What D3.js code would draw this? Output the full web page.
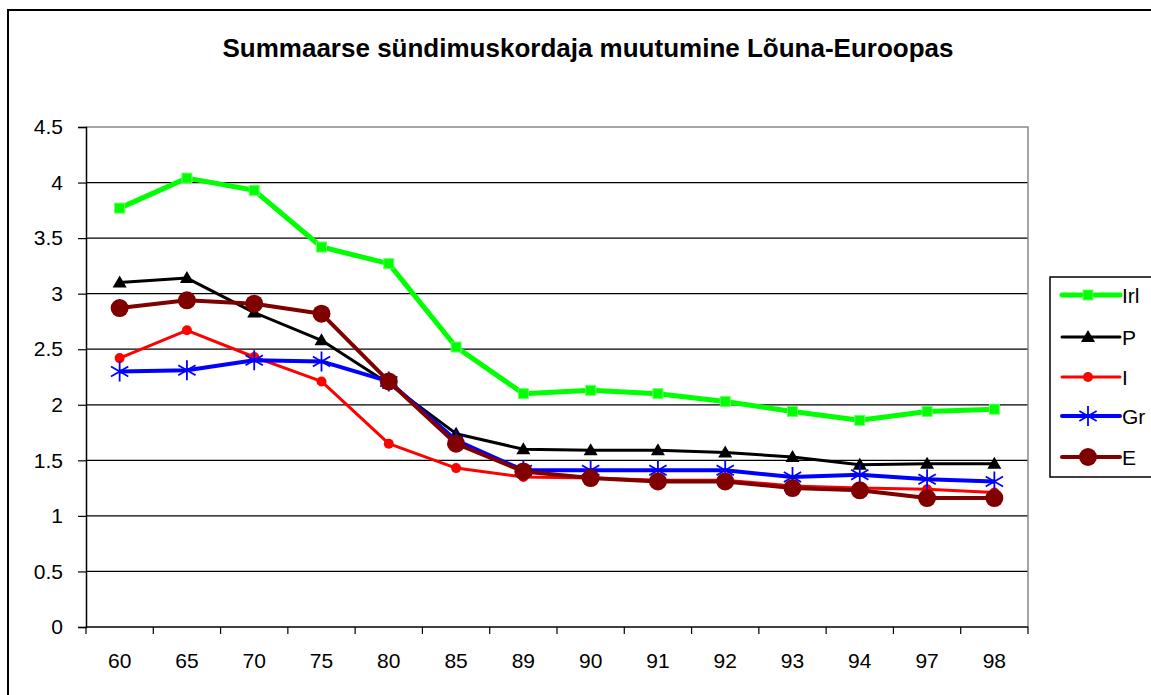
<!DOCTYPE html>
<html>
<head>
<meta charset="utf-8">
<script src="https://cdn.jsdelivr.net/npm/d3@7"></script>
<style>
  body { margin: 0; background: #fff; }
  text { font-family: "Liberation Sans", Arial, sans-serif; }
</style>
</head>
<body>
<svg id="chart" width="1151" height="695"></svg>
<script>
// DATA
var years = ["60","65","70","75","80","85","89","90","91","92","93","94","97","98"];
var irl = [3.77,4.04,3.93,3.42,3.27,2.52,2.10,2.13,2.10,2.03,1.94,1.86,1.94,1.96];
var por = [3.10,3.14,2.83,2.58,2.19,1.74,1.60,1.59,1.59,1.57,1.53,1.46,1.47,1.47];
var ita = [2.42,2.67,2.43,2.21,1.65,1.43,1.35,1.34,1.32,1.32,1.27,1.25,1.24,1.21];
var gre = [2.30,2.31,2.40,2.39,2.21,1.68,1.41,1.41,1.41,1.41,1.35,1.37,1.33,1.31];
var esp = [2.87,2.94,2.91,2.82,2.21,1.65,1.40,1.34,1.31,1.31,1.25,1.23,1.16,1.16];
var yTicks = [0,0.5,1,1.5,2,2.5,3,3.5,4,4.5];

var series = [
  {name: "Irl", values: irl, color: "#00ff00", width: 5, marker: "square"},
  {name: "P",   values: por, color: "#000000", width: 3, marker: "triangle"},
  {name: "I",   values: ita, color: "#ff0000", width: 3, marker: "dot"},
  {name: "Gr",  values: gre, color: "#0000ff", width: 4, marker: "star"},
  {name: "E",   values: esp, color: "#800000", width: 4, marker: "circle"}
];

var svg = d3.select("#chart");

// outer frame (runs off the right/bottom edge like the original)
svg.append("rect")
  .attr("x", 8).attr("y", 10)
  .attr("width", 1180).attr("height", 720)
  .attr("fill", "none").attr("stroke", "#000").attr("stroke-width", 2);

svg.append("text")
  .attr("x", 588).attr("y", 57)
  .attr("text-anchor", "middle")
  .style("font-size", "26px").style("font-weight", "bold")
  .text("Summaarse sündimuskordaja muutumine Lõuna-Euroopas");

// SCALES
var pLeft = 86, pRight = 1028, pTop = 127, pBottom = 627;
var x = d3.scaleBand().domain(years).range([pLeft, pRight]);
var y = d3.scaleLinear().domain([0, 4.5]).range([pBottom, pTop]);

// gridlines
svg.append("g").selectAll("line")
  .data(yTicks.slice(1, -1))
  .join("line")
  .attr("x1", pLeft).attr("x2", pRight)
  .attr("y1", function(d) { return y(d); })
  .attr("y2", function(d) { return y(d); })
  .attr("stroke", "#000").attr("stroke-width", 1.2);

// plot border top/right (gray)
svg.append("path")
  .attr("d", "M" + pLeft + "," + pTop + "H" + pRight + "V" + pBottom)
  .attr("fill", "none").attr("stroke", "#888").attr("stroke-width", 1.5);

// Y AXIS
var yAxis = d3.axisLeft(y).tickValues(yTicks).tickSize(8).tickPadding(15)
  .tickFormat(function(d) { return d; });
var gy = svg.append("g").attr("transform", "translate(" + pLeft + ",0)").call(yAxis);
gy.select(".domain").attr("stroke", "#000").attr("stroke-width", 1.5);
gy.selectAll(".tick line").attr("stroke", "#000").attr("stroke-width", 1.2);
gy.selectAll("text").style("font-size", "21px").attr("fill", "#000")
  .attr("font-family", null);

// X AXIS: ticks between categories
var gx = svg.append("g").attr("transform", "translate(0," + pBottom + ")");
gx.append("line").attr("x1", pLeft).attr("x2", pRight)
  .attr("stroke", "#000").attr("stroke-width", 1.5);
var edges = years.map(function(d) { return x(d); }).concat([pRight]);
gx.selectAll(".tk").data(edges).join("line")
  .attr("class", "tk")
  .attr("x1", function(d) { return d; }).attr("x2", function(d) { return d; })
  .attr("y1", 0).attr("y2", 7)
  .attr("stroke", "#000").attr("stroke-width", 1.2);
gx.selectAll(".lb").data(years).join("text")
  .attr("class", "lb")
  .attr("x", function(d) { return x(d) + x.bandwidth() / 2; })
  .attr("y", 41)
  .attr("text-anchor", "middle")
  .style("font-size", "21px")
  .text(function(d) { return d; });

// MARKERS
function drawMarker(g, type, color, cx, cy) {
  if (type == "square") {
    g.append("rect").attr("x", cx - 5).attr("y", cy - 5)
      .attr("width", 10).attr("height", 10)
      .attr("fill", color).attr("stroke", "#66ff66").attr("stroke-width", 1);
  } else if (type == "triangle") {
    g.append("path")
      .attr("d", "M" + cx + "," + (cy - 7) + "L" + (cx + 7) + "," + (cy + 5) + "L" + (cx - 7) + "," + (cy + 5) + "Z")
      .attr("fill", color);
  } else if (type == "dot") {
    g.append("circle").attr("cx", cx).attr("cy", cy).attr("r", 5).attr("fill", color);
  } else if (type == "circle") {
    g.append("circle").attr("cx", cx).attr("cy", cy).attr("r", 9).attr("fill", color);
  } else if (type == "star") {
    var r = 10, s = "";
    [0, 60, 120].forEach(function(a) {
      var rad = (a + 90) * Math.PI / 180;
      s += "M" + (cx + r * Math.cos(rad)) + "," + (cy + r * Math.sin(rad)) +
           "L" + (cx - r * Math.cos(rad)) + "," + (cy - r * Math.sin(rad));
    });
    g.append("path").attr("d", s).attr("stroke", color).attr("stroke-width", 1.8).attr("fill", "none");
  }
}

var line = d3.line()
  .x(function(d, i) { return x(years[i]) + x.bandwidth() / 2; })
  .y(function(d) { return y(d); });

series.forEach(function(s) {
  var g = svg.append("g");
  g.append("path").datum(s.values)
    .attr("d", line)
    .attr("fill", "none")
    .attr("stroke", s.color)
    .attr("stroke-width", s.width)
    .attr("stroke-linejoin", "round");
  s.values.forEach(function(v, i) {
    drawMarker(g, s.marker, s.color, x(years[i]) + x.bandwidth() / 2, y(v));
  });
});

// LEGEND
var lg = svg.append("g");
lg.append("rect").attr("x", 1050).attr("y", 277).attr("width", 130).attr("height", 200)
  .attr("fill", "#fff").attr("stroke", "#000").attr("stroke-width", 1.5);
var legY = [295, 337, 377, 416, 457];
series.forEach(function(s, i) {
  var ly = legY[i];
  lg.append("line").attr("x1", 1062).attr("x2", 1120).attr("y1", ly).attr("y2", ly)
    .attr("stroke", s.color).attr("stroke-width", s.width).attr("stroke-linecap", "round");
  drawMarker(lg, s.marker, s.color, 1088, ly);
  lg.append("text").attr("x", 1122).attr("y", ly + 8)
    .style("font-size", "21px").text(s.name);
});
</script>
</body>
</html>
